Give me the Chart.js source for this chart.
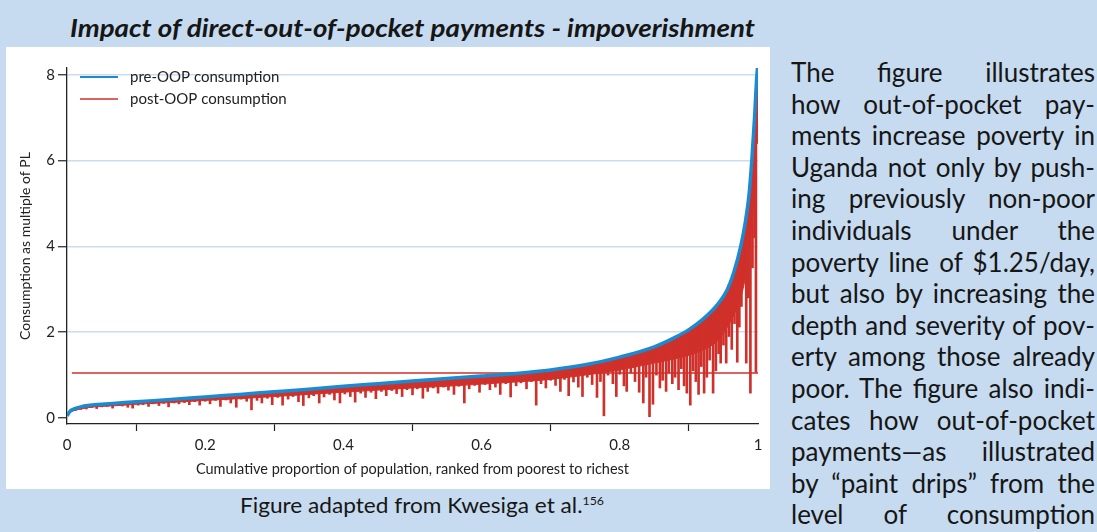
<!DOCTYPE html>
<html>
<head>
<meta charset="utf-8">
<script src="https://cdn.jsdelivr.net/npm/chart.js@4/dist/chart.umd.min.js"></script>
<style>
  body { margin: 0; width: 1097px; height: 532px; overflow: hidden; background: #c6dbef; font-family: Lato, sans-serif; color: #161616; position: relative; }
  #title { position: absolute; left: 70px; top: 12px; white-space: nowrap; font-weight: bold; font-style: italic; font-size: 25px; line-height: 30px; transform-origin: left center; display: inline-block; }
  #panel { position: absolute; left: 6px; top: 47px; width: 764px; height: 442px; background: #fff; }
  #text { position: absolute; left: 791px; top: 57px; width: 304px; font-size: 26px; }
  #text div { line-height: 31.6px; height: 31.6px; white-space: nowrap; text-align: justify; text-align-last: justify; }
  #caption { position: absolute; left: 240px; top: 492px; white-space: nowrap; font-size: 22px; line-height: 26px; transform-origin: left center; display: inline-block; }
  #caption sup { font-size: 12px; vertical-align: 8px; line-height: 0; }
</style>
</head>
<body>
<span id="title">Impact of direct-out-of-pocket payments - impoverishment</span>
<div id="panel"><canvas id="chart" width="764" height="442"></canvas></div>
<div id="text">
  <div>The figure illustrates</div>
  <div>how out-of-pocket pay-</div>
  <div>ments increase poverty in</div>
  <div>Uganda not only by push-</div>
  <div>ing previously non-poor</div>
  <div>individuals under the</div>
  <div>poverty line of $1.25/day,</div>
  <div>but also by increasing the</div>
  <div>depth and severity of pov-</div>
  <div>erty among those already</div>
  <div>poor. The figure also indi-</div>
  <div>cates how out-of-pocket</div>
  <div>payments—as illustrated</div>
  <div>by “paint drips” from the</div>
  <div>level of consumption</div>
</div>
<span id="caption">Figure adapted from Kwesiga et al.<sup>156</sup></span>
<script>
// cumulative population share (x) and consumption as multiple of poverty line (y)
const preShare = [0, 0.005, 0.01, 0.02, 0.03, 0.05, 0.075, 0.1, 0.15, 0.2, 0.25, 0.3, 0.35, 0.4, 0.45, 0.5, 0.55, 0.6,
  0.65, 0.7, 0.75, 0.8, 0.85, 0.88, 0.9, 0.92, 0.94, 0.955, 0.965, 0.975, 0.982, 0.987, 0.991, 0.995, 0.998, 1.0];
const preOop = [0.05, 0.17, 0.21, 0.26, 0.29, 0.32, 0.35, 0.38, 0.43, 0.49, 0.55, 0.61, 0.67, 0.74, 0.80, 0.86, 0.92, 0.98,
  1.04, 1.12, 1.24, 1.42, 1.66, 1.88, 2.06, 2.30, 2.62, 2.98, 3.4, 4.0, 4.6, 5.2, 6.0, 7.0, 7.9, 8.3];
// lower edge of the solid post-OOP band (same x as preShare)
const postBand = [0.05, 0.13, 0.17, 0.21, 0.24, 0.27, 0.29, 0.32, 0.36, 0.41, 0.45, 0.50, 0.55, 0.60, 0.65, 0.70, 0.74, 0.79,
  0.84, 0.90, 1.00, 1.12, 1.28, 1.38, 1.46, 1.58, 1.78, 2.1, 2.4, 2.8, 3.3, 3.9, 4.5, 5.4, 6.7, 8.0];

// "paint drips": post-OOP consumption falling from pre-OOP level
const dripShare = [
  0.012, 0.02, 0.028, 0.035, 0.043, 0.05, 0.058, 0.066, 0.073, 0.08,
  0.088, 0.095, 0.103, 0.11, 0.118, 0.125, 0.133, 0.14, 0.147, 0.155,
  0.162, 0.17, 0.177, 0.185, 0.192, 0.2, 0.207, 0.215, 0.222, 0.23,
  0.237, 0.245, 0.252, 0.26, 0.267, 0.275, 0.282, 0.29, 0.297, 0.305,
  0.312, 0.32, 0.327, 0.335, 0.342, 0.35, 0.357, 0.365, 0.372, 0.38,
  0.387, 0.395, 0.402, 0.41, 0.417, 0.425, 0.432, 0.44, 0.447, 0.455,
  0.462, 0.47, 0.477, 0.485, 0.492, 0.5, 0.507, 0.515, 0.522, 0.53,
  0.537, 0.545, 0.552, 0.56, 0.567, 0.575, 0.582, 0.59, 0.597, 0.605,
  0.612, 0.62, 0.627, 0.635, 0.642, 0.65, 0.657, 0.665, 0.672, 0.679,
  0.686, 0.693, 0.7, 0.707, 0.714, 0.72, 0.726, 0.733, 0.74, 0.746,
  0.753, 0.76, 0.767, 0.772, 0.777, 0.783, 0.79, 0.795, 0.8, 0.806,
  0.81, 0.816, 0.822, 0.828, 0.834, 0.838, 0.843, 0.848, 0.853, 0.858,
  0.862, 0.867, 0.871, 0.876, 0.88, 0.885, 0.889, 0.893, 0.897, 0.902,
  0.906, 0.91, 0.914, 0.918, 0.922, 0.926, 0.93, 0.935, 0.939, 0.943,
  0.946, 0.95, 0.954, 0.958, 0.962, 0.966, 0.97, 0.973, 0.976, 0.98,
  0.983, 0.986, 0.989, 0.992, 0.995, 0.997, 0.999];
const dripLow = [
  0.17, 0.20, 0.21, 0.24, 0.22, 0.26, 0.27, 0.23, 0.29, 0.28,
  0.25, 0.23, 0.30, 0.31, 0.27, 0.33, 0.29, 0.34, 0.26, 0.35,
  0.33, 0.36, 0.31, 0.38, 0.30, 0.39, 0.33, 0.41, 0.27, 0.42,
  0.35, 0.25, 0.44, 0.39, 0.19, 0.41, 0.35, 0.46, 0.31, 0.48,
  0.30, 0.44, 0.50, 0.38, 0.29, 0.47, 0.52, 0.35, 0.49, 0.55,
  0.42, 0.35, 0.56, 0.50, 0.37, 0.58, 0.48, 0.60, 0.45, 0.62,
  0.52, 0.64, 0.57, 0.50, 0.66, 0.54, 0.68, 0.46, 0.62, 0.70,
  0.58, 0.72, 0.65, 0.55, 0.74, 0.35, 0.68, 0.76, 0.60, 0.78,
  0.66, 0.72, 0.55, 0.80, 0.49, 0.75, 0.82, 0.68, 0.85, 0.30,
  0.80, 0.70, 0.88, 0.76, 0.62, 0.90, 0.52, 0.84, 0.72, 0.50,
  0.95, 0.78, 0.48, 0.85, 0.05, 1.00, 0.80, 0.50, 1.02, 0.75,
  0.62, 1.05, 0.85, 0.60, 0.35, 0.95, 0.03, 0.32, 1.00, 0.70,
  0.88, 0.62, 1.05, 0.80, 0.95, 0.66, 1.15, 0.75, 0.58, 0.30,
  1.10, 0.85, 0.55, 1.20, 0.58, 0.95, 1.35, 0.58, 1.10, 1.50,
  1.28, 1.70, 1.28, 1.90, 1.60, 2.20, 1.30, 2.12, 2.60, 3.30,
  1.28, 2.80, 0.58, 3.50, 4.20, 1.06, 6.40];
const dripTop = [
  0.22, 0.26, 0.28, 0.30, 0.31, 0.32, 0.33, 0.34, 0.35, 0.36,
  0.37, 0.38, 0.38, 0.39, 0.40, 0.41, 0.41, 0.42, 0.43, 0.44,
  0.45, 0.46, 0.46, 0.47, 0.48, 0.49, 0.50, 0.51, 0.52, 0.53,
  0.54, 0.55, 0.55, 0.56, 0.57, 0.58, 0.59, 0.60, 0.61, 0.62,
  0.63, 0.64, 0.64, 0.65, 0.66, 0.67, 0.68, 0.69, 0.70, 0.71,
  0.72, 0.73, 0.74, 0.75, 0.76, 0.77, 0.78, 0.79, 0.80, 0.81,
  0.82, 0.82, 0.83, 0.84, 0.85, 0.86, 0.87, 0.88, 0.89, 0.90,
  0.90, 0.91, 0.92, 0.93, 0.94, 0.95, 0.96, 0.97, 0.98, 0.99,
  0.99, 1.00, 1.01, 1.02, 1.03, 1.04, 1.05, 1.06, 1.07, 1.08,
  1.10, 1.11, 1.12, 1.13, 1.15, 1.16, 1.17, 1.19, 1.21, 1.23,
  1.25, 1.27, 1.30, 1.32, 1.34, 1.36, 1.38, 1.40, 1.42, 1.45,
  1.47, 1.50, 1.52, 1.55, 1.58, 1.60, 1.62, 1.65, 1.68, 1.70,
  1.73, 1.76, 1.79, 1.84, 1.88, 1.92, 1.96, 2.00, 2.04, 2.08,
  2.12, 2.17, 2.22, 2.27, 2.33, 2.39, 2.45, 2.53, 2.60, 2.68,
  2.74, 2.84, 2.95, 3.10, 3.25, 3.45, 3.68, 3.85, 4.05, 4.35,
  4.70, 5.08, 5.60, 6.20, 7.00, 7.60, 8.10];

// poverty line ($1.25/day)
const povertyShare = [0.007, 1.0];
const povertyLine = [1.05, 1.05];

const xTicks = [0, 0.2, 0.4, 0.6, 0.8, 1];
const yTicks = [0, 2, 4, 6, 8];
const seriesNames = ['pre-OOP consumption', 'post-OOP consumption'];

const BLUE = '#1a8bd3';
const RED = '#d0302a';
const INK = '#222';

function fitWidth(id, target) {
  const el = document.getElementById(id);
  const w = el.getBoundingClientRect().width;
  el.style.transform = 'scaleX(' + (target / w) + ')';
}
fitWidth('title', 685);
fitWidth('caption', 364);

Chart.defaults.font.family = 'Lato, sans-serif';
Chart.defaults.color = INK;

// legend drawn inside the plot, top-left
const insideLegend = {
  id: 'insideLegend',
  afterDatasetsDraw(chart) {
    const { ctx, chartArea } = chart;
    const colors = [BLUE, RED];
    ctx.save();
    ctx.font = '15px Lato, sans-serif';
    ctx.textBaseline = 'middle';
    seriesNames.forEach((name, i) => {
      const y = chartArea.top + 9 + i * 22;
      ctx.strokeStyle = colors[i];
      ctx.lineWidth = i === 0 ? 2 : 1.5;
      ctx.beginPath();
      ctx.moveTo(chartArea.left + 13, y);
      ctx.lineTo(chartArea.left + 51, y);
      ctx.stroke();
      ctx.fillStyle = INK;
      ctx.fillText(name, chartArea.left + 63, y);
    });
    ctx.restore();
  }
};

new Chart(document.getElementById('chart'), {
  type: 'line',
  data: {
    datasets: [
      {
        label: seriesNames[0],
        data: preShare.map((x, i) => ({ x, y: preOop[i] })),
        borderColor: BLUE,
        borderWidth: 3.5,
        pointRadius: 0,
        cubicInterpolationMode: 'monotone',
        fill: false,
        order: 0
      },
      {
        type: 'bar',
        label: 'drips',
        data: dripShare.map((x, i) => ({ x, y: [dripLow[i], dripTop[i]] })),
        backgroundColor: RED,
        barThickness: 2,
        order: 1
      },
      {
        label: seriesNames[1],
        data: preShare.map((x, i) => ({ x, y: postBand[i] })),
        borderColor: RED,
        borderWidth: 1,
        backgroundColor: RED,
        pointRadius: 0,
        cubicInterpolationMode: 'monotone',
        fill: 0,
        order: 2
      },
      {
        label: 'poverty line',
        data: povertyShare.map((x, i) => ({ x, y: povertyLine[i] })),
        borderColor: RED,
        borderWidth: 1.4,
        pointRadius: 0,
        fill: false,
        order: 3
      }
    ]
  },
  options: {
    responsive: false,
    animation: false,
    layout: { padding: { top: 21, right: 12, left: 0, bottom: 0 } },
    plugins: { legend: { display: false }, tooltip: { enabled: false } },
    scales: {
      x: {
        type: 'linear',
        min: 0,
        max: 1,
        offset: false,
        afterBuildTicks: s => { s.ticks = xTicks.map(v => ({ value: v })); },
        afterFit: s => { s.height = 65; },
        ticks: { font: { size: 15 }, padding: 5, callback: v => String(v) },
        grid: { drawOnChartArea: false, tickLength: 7, tickColor: INK, tickWidth: 1.2 },
        border: { color: INK, width: 1.3 },
        title: {
          display: true,
          text: 'Cumulative proportion of population, ranked from poorest to richest',
          font: { size: 14.5 },
          padding: { top: 4, bottom: 11 }
        }
      },
      y: {
        type: 'linear',
        min: -0.14,
        max: 8.16,
        afterBuildTicks: s => { s.ticks = yTicks.map(v => ({ value: v })); },
        afterFit: s => { s.width = 61; },
        ticks: { font: { size: 15 }, padding: 3, callback: v => String(v) },
        grid: {
          color: c => (c.tick && c.tick.value === 0 ? 'rgba(0,0,0,0)' : '#c9ddf1'),
          lineWidth: 1.5,
          tickLength: 9,
          tickColor: INK,
          tickWidth: 1.2
        },
        border: { color: INK, width: 1.3 },
        title: {
          display: true,
          text: 'Consumption as multiple of PL',
          font: { size: 14 },
          padding: { top: 11, bottom: 0 }
        }
      }
    }
  },
  plugins: [insideLegend]
});
</script>
</body>
</html>
